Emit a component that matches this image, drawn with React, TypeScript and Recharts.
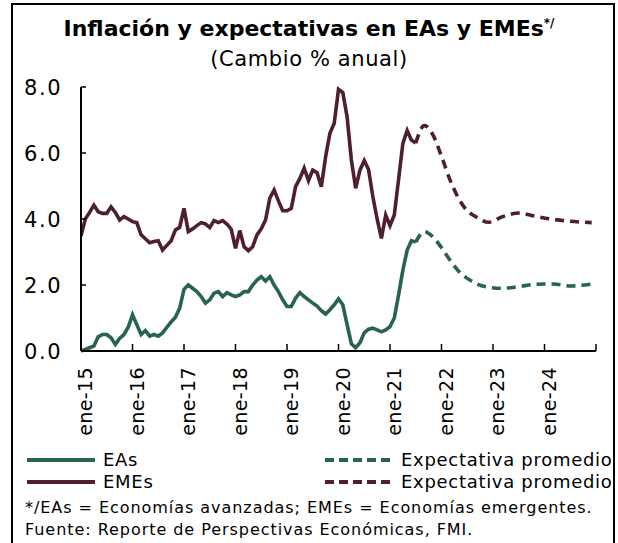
import React from "react";
import { LineChart, Line, XAxis, YAxis } from "recharts";

// Month index (0 = ene-15)
const eaMonths = Array.from({ length: 79 }, (_, i) => i);
const eaValues = [
  0.0, 0.05, 0.1, 0.15, 0.43, 0.5, 0.5, 0.4, 0.2, 0.38, 0.5, 0.72,
  1.1, 0.8, 0.5, 0.62, 0.45, 0.5, 0.45, 0.55, 0.72, 0.88, 1.02, 1.3,
  1.87, 2.0, 1.9, 1.8, 1.65, 1.45, 1.55, 1.75, 1.8, 1.65, 1.77, 1.7,
  1.65, 1.7, 1.8, 1.8, 2.0, 2.15, 2.25, 2.12, 2.25, 2.0, 1.8, 1.55,
  1.35, 1.35, 1.6, 1.77, 1.65, 1.55, 1.45, 1.36, 1.22, 1.12, 1.25, 1.4,
  1.58, 1.4, 0.8, 0.22, 0.1, 0.25, 0.55, 0.66, 0.69, 0.64, 0.58, 0.64,
  0.74, 1.0, 1.7, 2.45, 3.06, 3.34, 3.3,
];
const emeValues = [
  3.48, 4.0, 4.2, 4.42, 4.22, 4.17, 4.17, 4.37, 4.2, 3.97, 4.07, 4.0,
  3.92, 3.89, 3.52, 3.4, 3.28, 3.32, 3.34, 3.06, 3.2, 3.34, 3.67, 3.75,
  4.32, 3.62, 3.7, 3.8, 3.89, 3.85, 3.74, 3.95, 3.89, 3.95, 3.85, 3.69,
  3.11, 3.65, 3.16, 3.04, 3.16, 3.52, 3.7, 3.97, 4.63, 4.88, 4.55, 4.25,
  4.25, 4.32, 4.98, 5.23, 5.54, 5.16, 5.48, 5.4, 4.98, 5.89, 6.6, 6.9,
  7.93, 7.83, 7.1, 5.79, 4.93, 5.48, 5.77, 5.5, 4.68, 4.0, 3.41, 4.12,
  3.8, 4.12, 5.2, 6.29, 6.68, 6.39, 6.3,
];
const expMonths = [78, 80, 82, 84, 86, 88, 90, 92, 95, 98, 102, 106, 110, 114, 119];
const eaExpValues = [3.3, 3.62, 3.46, 3.13, 2.75, 2.42, 2.2, 2.05, 1.93, 1.9, 1.95, 2.02, 2.03, 1.97, 2.03];
const emeExpValues = [6.3, 6.83, 6.55, 5.9, 5.18, 4.62, 4.25, 4.07, 3.9, 4.06, 4.18, 4.08, 3.99, 3.93, 3.89];

const xTicks = [0, 12, 24, 36, 48, 60, 72, 84, 96, 108, 120];
const xTickLabels = ["ene-15", "ene-16", "ene-17", "ene-18", "ene-19", "ene-20", "ene-21", "ene-22", "ene-23", "ene-24", ""];
const yTicks = [0, 2, 4, 6, 8];

const eaData = eaMonths.map((m, i) => ({ x: m, v: eaValues[i] }));
const emeData = eaMonths.map((m, i) => ({ x: m, v: emeValues[i] }));
const eaExpData = expMonths.map((m, i) => ({ x: m, v: eaExpValues[i] }));
const emeExpData = expMonths.map((m, i) => ({ x: m, v: emeExpValues[i] }));

const GREEN = "#28634f";
const MAROON = "#4f1f2b";
const FONT = "'DejaVu Sans', sans-serif";

const XTick = (props: any) => {
  const { x, y, payload } = props;
  const idx = xTicks.indexOf(payload.value);
  const label = idx >= 0 ? xTickLabels[idx] : "";
  return (
    <g>
      <line x1={x} y1={y} x2={x} y2={y - 7} stroke="#000" strokeWidth={1.5} />
      <text
        x={x}
        y={y}
        transform={`rotate(-90 ${x} ${y})`}
        dx={-16}
        dy={11}
        textAnchor="end"
        fontSize={19}
        letterSpacing={0.4}
        fontFamily={FONT}
        fill="#000"
      >
        {label}
      </text>
    </g>
  );
};

const YTick = (props: any) => {
  const { x, y, payload } = props;
  return (
    <g>
      <line x1={x} y1={y} x2={x + 5} y2={y} stroke="#000" strokeWidth={1.5} />
      <text x={x - 19} y={y} dy={7.5} textAnchor="end" fontSize={21} letterSpacing={1.5} fontFamily={FONT} fill="#000">
        {Number(payload.value).toFixed(1)}
      </text>
    </g>
  );
};

const LegendItem = ({ color, dashed, label, left, top }: any) => (
  <div style={{ position: "absolute", left, top, display: "flex", alignItems: "center", whiteSpace: "nowrap" }}>
    <svg width={70} height={8} style={{ marginRight: 6 }}>
      <line x1={0} y1={4} x2={68} y2={4} stroke={color} strokeWidth={4} strokeDasharray={dashed ? "9 5" : undefined} />
    </svg>
    <span style={{ fontSize: 18, letterSpacing: 0.7, fontFamily: FONT, color: "#000", lineHeight: "20px" }}>{label}</span>
  </div>
);

export default function App() {
  return (
    <div style={{ position: "absolute", left: 0, top: 0, width: 618, height: 543, overflow: "hidden", background: "#fff" }}>
      <div
        style={{
          position: "absolute",
          left: 11,
          top: 3,
          width: 604,
          height: 560,
          border: "2px solid #000",
          boxSizing: "border-box",
        }}
      />
      <div
        style={{
          position: "absolute",
          left: 0,
          width: 618,
          top: 16,
          textAlign: "center",
          fontFamily: FONT,
          fontWeight: 700,
          fontSize: 22,
          color: "#000",
          lineHeight: "26px",
        }}
      >
        Inflación y expectativas en EAs y EMEs
        <sup style={{ fontSize: 12, verticalAlign: "top", lineHeight: "12px", position: "relative", top: 1 }}>*/</sup>
      </div>
      <div
        style={{
          position: "absolute",
          left: 0,
          width: 618,
          top: 46,
          textAlign: "center",
          fontFamily: FONT,
          fontSize: 21,
          letterSpacing: 0.6,
          color: "#000",
          lineHeight: "26px",
        }}
      >
        (Cambio % anual)
      </div>
      <div style={{ position: "absolute", left: 0, top: 0 }}>
        <LineChart width={618} height={543} margin={{ top: 87, right: 22, bottom: 92, left: 21 }}>
          <XAxis
            type="number"
            dataKey="x"
            domain={[0, 120]}
            ticks={xTicks}
            interval={0}
            tick={<XTick />}
            tickSize={0}
            tickMargin={0}
            height={100}
            axisLine={{ stroke: "#000", strokeWidth: 2 }}
            tickLine={false}
            allowDataOverflow
          />
          <YAxis
            type="number"
            domain={[0, 8]}
            ticks={yTicks}
            interval={0}
            tick={<YTick />}
            tickSize={0}
            tickMargin={0}
            width={60}
            axisLine={{ stroke: "#000", strokeWidth: 2 }}
            tickLine={false}
          />
          <Line data={eaData} dataKey="v" type="linear" stroke={GREEN} strokeWidth={3.6} dot={false} isAnimationActive={false} />
          <Line data={emeData} dataKey="v" type="linear" stroke={MAROON} strokeWidth={3.6} dot={false} isAnimationActive={false} />
          <Line data={eaExpData} dataKey="v" type="monotone" stroke={GREEN} strokeWidth={3.6} strokeDasharray="9 6" dot={false} isAnimationActive={false} />
          <Line data={emeExpData} dataKey="v" type="monotone" stroke={MAROON} strokeWidth={3.6} strokeDasharray="9 6" dot={false} isAnimationActive={false} />
        </LineChart>
      </div>
      <LegendItem color={GREEN} label="EAs" left={27} top={450} />
      <LegendItem color={MAROON} label="EMEs" left={27} top={472} />
      <LegendItem color={GREEN} dashed label="Expectativa promedio" left={325} top={450} />
      <LegendItem color={MAROON} dashed label="Expectativa promedio" left={325} top={472} />
      <div style={{ position: "absolute", left: 25, top: 498, fontFamily: FONT, fontSize: 16, letterSpacing: 0.95, color: "#000", whiteSpace: "nowrap", lineHeight: "20px" }}>
        */EAs = Economías avanzadas; EMEs = Economías emergentes.
      </div>
      <div style={{ position: "absolute", left: 25, top: 520, fontFamily: FONT, fontSize: 16, letterSpacing: 0.95, color: "#000", whiteSpace: "nowrap", lineHeight: "20px" }}>
        Fuente: Reporte de Perspectivas Económicas, FMI.
      </div>
    </div>
  );
}
